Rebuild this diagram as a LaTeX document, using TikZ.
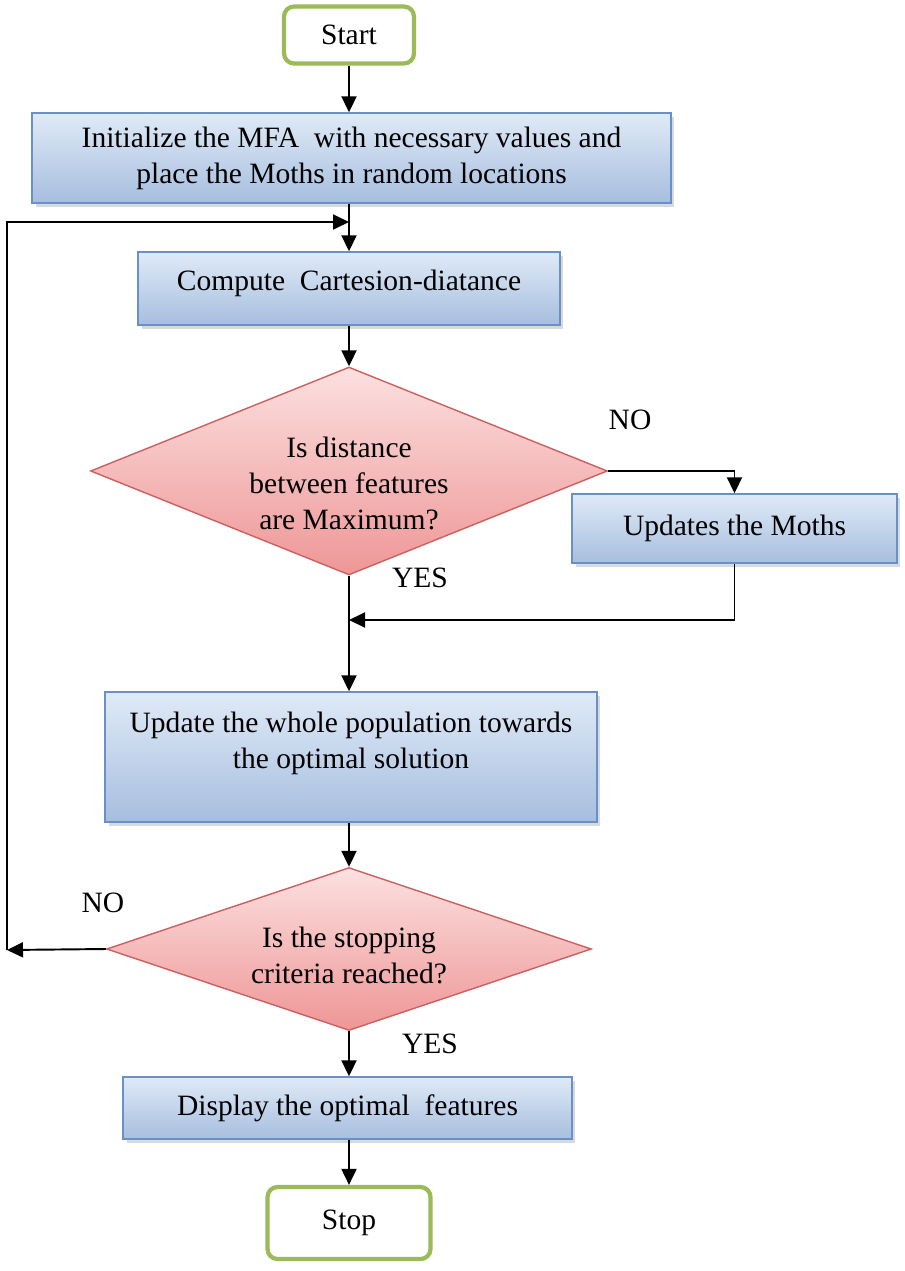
\documentclass[tikz,border=0pt]{standalone}
\usepackage{fontspec}
\setmainfont{Liberation Serif}
\usetikzlibrary{shapes.geometric,arrows.meta,shadows}
\definecolor{boxtop}{RGB}{224,234,247}
\definecolor{boxbot}{RGB}{166,190,222}
\definecolor{boxline}{RGB}{105,145,200}
\definecolor{dtop}{RGB}{252,224,224}
\definecolor{dbot}{RGB}{238,150,150}
\definecolor{dline}{RGB}{205,95,95}
\definecolor{termgreen}{RGB}{155,187,89}
\begin{document}
\begin{tikzpicture}[x=0.02cm,y=-0.02cm,
  font=\fontsize{16.8}{20.5}\selectfont,
  procbox/.style={rectangle, draw=boxline, line width=0.8pt, top color=boxtop, bottom color=boxbot,
    align=center, inner sep=0pt, drop shadow={shadow xshift=2pt,shadow yshift=-2.5pt,opacity=0.3}},
  decision/.style={diamond, draw=dline, line width=0.8pt, top color=dtop, bottom color=dbot,
    inner sep=0pt},
  dtext/.style={align=center, inner sep=0pt},
  terminal/.style={rectangle, rounded corners=0.2cm, draw=termgreen, line width=2.4pt, fill=white},
  flow/.style={line width=1.1pt, -{Triangle[length=0.32cm,width=0.3cm]}},
  lbl/.style={inner sep=0pt}
]
\useasboundingbox (0,0) rectangle (905,1271);

\node[terminal, minimum width=2.6cm, minimum height=1.14cm] (start) at (349,35) {Start};
\node[procbox, minimum width=12.78cm, minimum height=1.8cm] (b1) at (351.5,158)
  {Initialize the MFA~ with necessary values and\\place the Moths in random locations};
\node[procbox, minimum width=8.44cm, minimum height=1.46cm] (b2) at (349,288.5)
  {Compute~ Cartesion-diatance\\[-0.38cm]\mbox{}};
\node[decision, minimum width=10.34cm, minimum height=4.16cm,
  label={[name=d1text, dtext, yshift=-0.24cm]center:{Is distance\\between features\\are Maximum?}}]
  (d1) at (349,471) {};
\node[procbox, minimum width=6.5cm, minimum height=1.38cm] (b3) at (734.5,528.5) {Updates the Moths};
\node[procbox, minimum width=9.84cm, minimum height=2.6cm] (b4) at (351,757)
  {Update the whole population towards\\the optimal solution\\[-0.06cm]\mbox{}};
\node[decision, minimum width=9.7cm, minimum height=3.26cm,
  label={[name=d2text, dtext, yshift=-0.12cm]center:{Is the stopping\\criteria reached?}}]
  (d2) at (349,949) {};
\node[procbox, minimum width=8.98cm, minimum height=1.24cm] (b5) at (347.5,1108)
  {Display the optimal~ features};
\node[terminal, minimum width=3.26cm, minimum height=1.44cm] (stop) at (349,1223) {Stop};

\node[lbl] (no1) at (630,420) {NO};
\node[lbl] (yes1) at (420,578) {YES};
\node[lbl] (no2) at (103,903) {NO};
\node[lbl] (yes2) at (430,1044) {YES};

\coordinate (loopTop) at (7,222);
\coordinate (loopBot) at (7,950);
\coordinate (merge) at (349,620);

\draw[flow] (start.south) -- (start.south |- b1.north);
\draw[flow] (start.south |- b1.south) -- (start.south |- b2.north);
\draw[flow] (start.south |- b2.south) -- (start.south |- d1.north);
\draw[flow] (d1.east) -| (b3.north);
\draw[flow] (b3.south) |- (merge);
\draw[flow] (d1.south) -- (d1.south |- b4.north);
\draw[flow] (start.south |- b4.south) -- (d2.north);
\draw[flow] (d2.west) -- (loopBot);
\draw[flow] (loopBot) -- (loopTop) -- (start.south |- loopTop);
\draw[flow] (d2.south) -- (d2.south |- b5.north);
\draw[flow] (start.south |- b5.south) -- (stop.north);
\end{tikzpicture}
\end{document}
